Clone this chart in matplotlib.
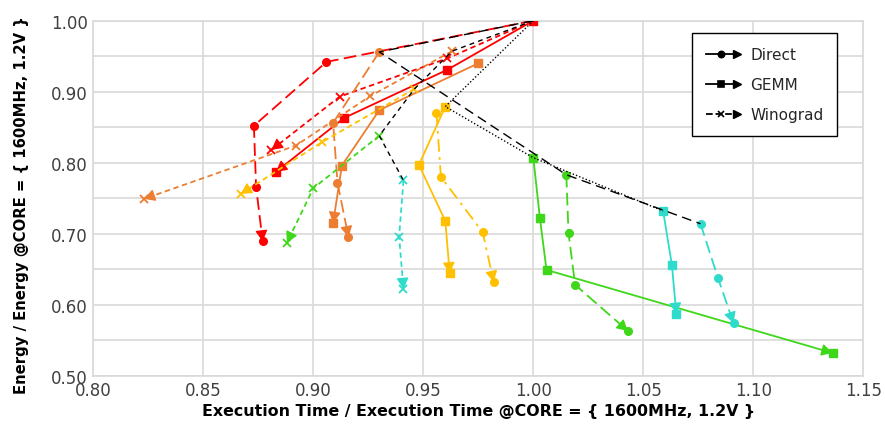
import numpy as np
import matplotlib
matplotlib.use("Agg")
import matplotlib.pyplot as plt
from matplotlib.lines import Line2D
from matplotlib.legend_handler import HandlerBase

plt.rcParams['font.family'] = ['DejaVu Sans']

# ---- data: (execution time, energy) normalised to CORE = {1600MHz, 1.2V} ----
red_direct_x = [1.000, 0.906, 0.873, 0.874, 0.877]
red_direct_y = [1.000, 0.942, 0.852, 0.766, 0.689]
red_gemm_x = [1.000, 0.961, 0.914, 0.883]
red_gemm_y = [1.000, 0.931, 0.863, 0.787]
red_wino_x = [1.000, 0.961, 0.912, 0.881]
red_wino_y = [1.000, 0.947, 0.893, 0.818]

orange_direct_x = [0.930, 0.909, 0.911, 0.916]
orange_direct_y = [0.956, 0.856, 0.772, 0.695]
orange_gemm_x = [0.975, 0.930, 0.913, 0.909]
orange_gemm_y = [0.940, 0.874, 0.796, 0.715]
orange_wino_x = [0.963, 0.926, 0.892, 0.823]
orange_wino_y = [0.957, 0.894, 0.824, 0.749]

yellow_direct_x = [0.956, 0.958, 0.977, 0.982]
yellow_direct_y = [0.870, 0.780, 0.702, 0.632]
yellow_gemm_x = [0.960, 0.948, 0.960, 0.962]
yellow_gemm_y = [0.879, 0.797, 0.718, 0.644]
yellow_wino_x = [0.946, 0.904, 0.867]
yellow_wino_y = [0.904, 0.829, 0.756]

green_direct_x = [1.015, 1.016, 1.019, 1.043]
green_direct_y = [0.783, 0.701, 0.628, 0.563]
green_gemm_x = [1.000, 1.003, 1.006, 1.136]
green_gemm_y = [0.807, 0.722, 0.649, 0.532]
green_wino_x = [0.930, 0.900, 0.888]
green_wino_y = [0.838, 0.764, 0.687]

cyan_direct_x = [1.076, 1.084, 1.091]
cyan_direct_y = [0.714, 0.637, 0.574]
cyan_gemm_x = [1.059, 1.063, 1.065]
cyan_gemm_y = [0.732, 0.656, 0.587]
cyan_wino_x = [0.941, 0.939, 0.941]
cyan_wino_y = [0.775, 0.696, 0.622]

legend_labels = ["Direct", "GEMM", "Winograd"]
x_ticks = [0.80, 0.85, 0.90, 0.95, 1.00, 1.05, 1.10, 1.15]
y_ticks = [0.50, 0.60, 0.70, 0.80, 0.90, 1.00]

RED, ORANGE, YELLOW, GREEN, CYAN = "#FF0000", "#ED7D31", "#FFC000", "#3FD71A", "#2FDCCB"

LONG_DASH = (0, (7, 3))
DASH_DOT = (0, (7, 3, 1.5, 3))
SHORT_DASH = (0, (3, 2))

series = [
    (red_direct_x, red_direct_y, RED, LONG_DASH, "o", 5.5),
    (red_gemm_x, red_gemm_y, RED, "-", "s", 6),
    (red_wino_x, red_wino_y, RED, SHORT_DASH, "x", 5.5),
    (orange_direct_x, orange_direct_y, ORANGE, LONG_DASH, "o", 5.5),
    (orange_gemm_x, orange_gemm_y, ORANGE, "-", "s", 6),
    (orange_wino_x, orange_wino_y, ORANGE, SHORT_DASH, "x", 5.5),
    (yellow_direct_x, yellow_direct_y, YELLOW, DASH_DOT, "o", 5.5),
    (yellow_gemm_x, yellow_gemm_y, YELLOW, "-", "s", 6),
    (yellow_wino_x, yellow_wino_y, YELLOW, SHORT_DASH, "x", 5.5),
    (green_direct_x, green_direct_y, GREEN, LONG_DASH, "o", 5.5),
    (green_gemm_x, green_gemm_y, GREEN, "-", "s", 6),
    (green_wino_x, green_wino_y, GREEN, SHORT_DASH, "x", 5.5),
    (cyan_direct_x, cyan_direct_y, CYAN, LONG_DASH, "o", 5.5),
    (cyan_gemm_x, cyan_gemm_y, CYAN, "-", "s", 6),
    (cyan_wino_x, cyan_wino_y, CYAN, SHORT_DASH, "x", 5.5),
]

fig = plt.figure(figsize=(8.85, 4.31), dpi=100)
ax = fig.add_axes([0.1054, 0.126, 0.8701, 0.8237])
ax.set_xlim(0.80, 1.15)
ax.set_ylim(0.50, 1.00)

# grid
grid_c = "#D9D9D9"
ax.set_xticks(x_ticks)
ax.set_yticks(y_ticks)
ax.set_yticks(np.arange(0.55, 1.0, 0.1), minor=True)
ax.grid(True, which="both", color=grid_c, lw=1.2, zorder=0)
ax.tick_params(which="both", length=0)
ax.tick_params(axis="both", labelsize=12, labelcolor="#404040", pad=4)
ax.set_xticklabels([f"{v:.2f}" for v in x_ticks])
ax.set_yticklabels([f"{v:.2f}" for v in y_ticks])
for s in ax.spines.values():
    s.set_color(grid_c)
    s.set_linewidth(1.2)
ax.set_axisbelow(True)


def end_arrow(xs, ys, color, z):
    p0 = ax.transData.transform((xs[-2], ys[-2]))
    p1 = ax.transData.transform((xs[-1], ys[-1]))
    d = (p1 - p0) / np.hypot(*(p1 - p0))
    ax.annotate("", xy=(xs[-1], ys[-1]), xytext=(-d[0] * 6, -d[1] * 6),
                textcoords="offset points",
                arrowprops=dict(arrowstyle="-|>,head_length=0.55,head_width=0.3",
                                color=color, lw=1.0, shrinkA=0, shrinkB=0,
                                mutation_scale=12),
                zorder=z)


for xs, ys, c, ls, mk, ms in series:
    mew = 1.3 if mk == "x" else 1.0
    ax.plot(xs, ys, color=c, ls=ls, lw=1.3, marker=mk, ms=ms, mew=mew, zorder=3)
    end_arrow(xs, ys, c, 3)

# black lines joining the first operating point of every frequency, per algorithm
direct_first_x = [red_direct_x[0], orange_direct_x[0], green_direct_x[0], cyan_direct_x[0]]
direct_first_y = [red_direct_y[0], orange_direct_y[0], green_direct_y[0], cyan_direct_y[0]]
gemm_first_x = [red_gemm_x[0], yellow_gemm_x[0], green_gemm_x[0], cyan_gemm_x[0]]
gemm_first_y = [red_gemm_y[0], yellow_gemm_y[0], green_gemm_y[0], cyan_gemm_y[0]]
wino_first_x = [red_wino_x[0], orange_wino_x[0], yellow_wino_x[0], green_wino_x[0], cyan_wino_x[0]]
wino_first_y = [red_wino_y[0], orange_wino_y[0], yellow_wino_y[0], green_wino_y[0], cyan_wino_y[0]]

ax.plot(direct_first_x, direct_first_y, color="black", lw=1.0, ls=(0, (7, 4)), zorder=4)
ax.plot(gemm_first_x, gemm_first_y, color="black", lw=1.0, ls=(0, (1, 1.5)), zorder=4)
ax.plot(wino_first_x, wino_first_y, color="black", lw=1.0, ls=(0, (3.5, 3)), zorder=4)

ax.set_xlabel("Execution Time / Execution Time @CORE = { 1600MHz, 1.2V }",
              fontsize=11.4, fontweight="bold", color="black", labelpad=3)
ax.set_ylabel("Energy / Energy @CORE = { 1600MHz, 1.2V }",
              fontsize=10.7, fontweight="bold", color="black")
ax.yaxis.set_label_coords(-0.0835, 0.483)


class ArrowLineHandler(HandlerBase):
    def create_artists(self, legend, orig_handle, xdescent, ydescent,
                       width, height, fontsize, trans):
        y = height / 2 - ydescent
        x0, x1 = -xdescent, width - xdescent
        line = Line2D([x0, x1 - 4], [y, y], color="black", lw=1.3,
                      ls=orig_handle.get_linestyle())
        mark = Line2D([(x0 + x1) / 2 - 2], [y], color="black",
                      marker=orig_handle.get_marker(), ms=4.5, mew=1.2, ls="none")
        head = Line2D([x1 - 3], [y], color="black", marker=">", ms=6, ls="none")
        for a in (line, mark, head):
            a.set_transform(trans)
        return [line, mark, head]


handles = [Line2D([], [], ls="-", marker="o"),
           Line2D([], [], ls="-", marker="s"),
           Line2D([], [], ls=(0, (2, 1.5)), marker="x")]
leg = ax.legend(handles, legend_labels, handler_map={Line2D: ArrowLineHandler()},
                loc="upper left", bbox_to_anchor=(0.7775, 0.965),
                fontsize=11, handlelength=2.3, labelspacing=1.0,
                borderpad=0.9, handletextpad=0.6, borderaxespad=0,
                fancybox=False, framealpha=1, edgecolor="black")
leg.get_frame().set_linewidth(1.0)
for t in leg.get_texts():
    t.set_color("#262626")

fig.savefig("out.png", dpi=100)
